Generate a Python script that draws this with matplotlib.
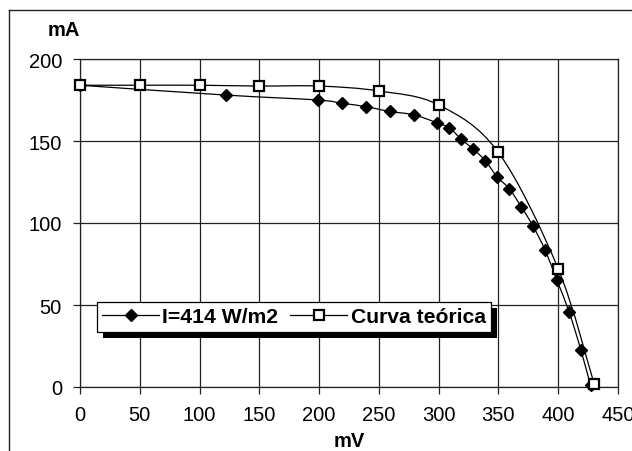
import numpy as np
import matplotlib
matplotlib.use("Agg")
import matplotlib.pyplot as plt
from matplotlib.path import Path
from matplotlib.patches import PathPatch, Rectangle
from matplotlib.lines import Line2D

plt.rcParams['font.family'] = ['Liberation Sans', 'DejaVu Sans']

# measured curve, I=414 W/m2
mv_med = [0, 122, 199, 219, 239, 259, 279, 299, 309, 319, 329, 339, 349, 359,
          369, 379, 389, 399, 409, 419, 427]
ma_med = [184, 178, 175, 173, 171, 168, 166, 161, 158, 151, 145, 138, 128, 121,
          110, 98, 83.5, 65, 46, 22.5, 1]

# theoretical curve
mv_teo = [0, 50, 100, 150, 200, 250, 300, 350, 400, 430]
ma_teo = [184, 184, 184, 183.5, 183.5, 180.5, 172, 143, 72, 2]

xticks = [0, 50, 100, 150, 200, 250, 300, 350, 400, 450]
yticks = [0, 50, 100, 150, 200]


def smooth_path(x, y):
    # Excel style smoothed line (Catmull-Rom -> bezier)
    p = np.column_stack([x, y]).astype(float)
    n = len(p)
    verts = [p[0]]
    codes = [Path.MOVETO]
    for i in range(n - 1):
        p0 = p[i - 1] if i > 0 else p[i]
        p3 = p[i + 2] if i + 2 < n else p[i + 1]
        c1 = p[i] + (p[i + 1] - p0) / 6
        c2 = p[i + 1] - (p3 - p[i]) / 6
        verts += [c1, c2, p[i + 1]]
        codes += [Path.CURVE4] * 3
    return Path(verts, codes)


W, H = 632, 452
fig = plt.figure(figsize=(W / 100, H / 100), dpi=100)
ax = fig.add_axes([80 / W, 1 - 388 / H, (618 - 80) / W, (388 - 60) / H])

ax.add_patch(PathPatch(smooth_path(mv_med, ma_med), fill=False, color='black', lw=0.9, zorder=3))
ax.add_patch(PathPatch(smooth_path(mv_teo, ma_teo), fill=False, color='black', lw=0.9, zorder=3))
ax.plot(mv_med, ma_med, ls='none', marker='D', ms=6.6, color='black', zorder=4, clip_on=False)
ax.plot(mv_teo, ma_teo, ls='none', marker='s', ms=7.4, mfc='white', mec='black', mew=1.6,
        zorder=5, clip_on=False)

ax.set_xlim(0, 450)
ax.set_ylim(0, 200)
ax.set_xticks(xticks)
ax.set_yticks(yticks)
ax.grid(True, color='#222222', lw=0.9)
ax.set_axisbelow(True)
for s in ax.spines.values():
    s.set_color('#222222')
    s.set_linewidth(0.9)
ax.tick_params(direction='out', length=5, width=0.9, labelsize=14.5, pad=8, color='#222222')

fig.text(64 / W, 1 - 30 / H, 'mA', fontsize=14.5, fontweight='bold', ha='center', va='center')
fig.text(349 / W, 1 - 442 / H, 'mV', fontsize=14.5, fontweight='bold', ha='center', va='center')

h1 = Line2D([], [], color='black', lw=0.9, marker='D', ms=6.6)
h2 = Line2D([], [], color='black', lw=0.9, marker='s', ms=7.4, mfc='white', mec='black', mew=1.6)
leg = ax.legend([h1, h2], ['I=414 W/m2', 'Curva teórica'], ncol=2,
                loc='upper left', bbox_to_anchor=(97 / W, 1 - 303 / H),
                bbox_transform=fig.transFigure, borderaxespad=0,
                fancybox=False, framealpha=1, edgecolor='black',
                prop={'size': 15.2, 'weight': 'bold'}, handlelength=2.7,
                handletextpad=0.15, columnspacing=0.57, borderpad=0.25)
leg.get_frame().set_linewidth(0.9)
leg.set_zorder(10)

# shadow behind legend
fig.canvas.draw()
bb = leg.get_window_extent()
ax.add_patch(Rectangle((bb.x0 + 6, bb.y0 - 6), bb.width, bb.height, transform=None,
                       facecolor='black', edgecolor='none', clip_on=False, zorder=9))

# outer chart frame
fig.add_artist(Line2D([9 / W, 1], [1 - 11 / H, 1 - 11 / H], color='#222222', lw=1))
fig.add_artist(Line2D([9 / W, 9 / W], [1 - 11 / H, 0], color='#222222', lw=1))

fig.savefig('out.png', dpi=100)
